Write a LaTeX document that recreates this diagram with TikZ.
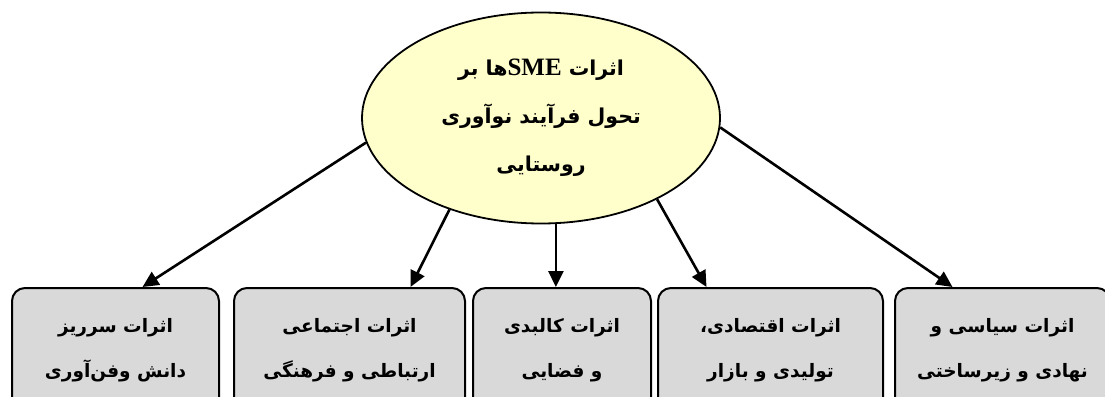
\documentclass[tikz,border=0pt]{standalone}
\usepackage{fontspec}
\setmainfont{Liberation Serif}
\newfontfamily\farsi[Script=Arabic]{DejaVu Sans}
\TeXXeTstate=1
\usepackage{xcolor}
\usepackage{tikz}
\usetikzlibrary{shapes.geometric,arrows.meta,calc}

\definecolor{ellyellow}{RGB}{255,255,204}
\definecolor{boxgray}{RGB}{217,217,217}
\newcommand{\fa}[1]{\beginR #1\endR}

\tikzset{
	effect/.style={draw, line width=2pt, rounded corners=13pt, fill=boxgray,
		minimum height=124pt, inner sep=0pt, align=center,
		font=\farsi\bfseries\fontsize{18.5}{45}\selectfont},
	arr/.style={-{Triangle[length=16pt,width=15pt]}, line width=2.6pt}
}

\begin{document}
\begin{tikzpicture}[x=1pt,y=-1pt]
	\clip (0,0) rectangle (1105,396);
	\node[ellipse, draw, line width=1.8pt, fill=ellyellow, minimum width=358pt,
		minimum height=211pt, inner sep=0pt, align=center,
		font=\farsi\bfseries\fontsize{20.5}{48}\selectfont] (impact) at (541,118)
		{\fa{اثرات \beginL{\rmfamily\bfseries\fontsize{25}{48}\selectfont SME}\endL ها بر}\\
		 \fa{تحول فرآیند نوآوری}\\
		 \fa{روستایی}};
	\node[effect, minimum width=207pt] (b1) at (115.5,350) {\fa{اثرات سرریز}\\\fa{دانش وفن‌آوری}};
	\node[effect, minimum width=231pt] (b2) at (349.5,350) {\fa{اثرات اجتماعی}\\\fa{ارتباطی و فرهنگی}};
	\node[effect, minimum width=178pt] (b3) at (562,350) {\fa{اثرات کالبدی}\\\fa{و فضایی}};
	\node[effect, minimum width=225pt] (b4) at (770.5,350) {\fa{اثرات اقتصادی،}\\\fa{تولیدی و بازار}};
	\node[effect, minimum width=215pt] (b5) at (1002.5,350) {\fa{اثرات سیاسی و}\\\fa{نهادی و زیرساختی}};
	\draw[arr] (impact.188) -- ($(b1.north)+(27,0)$);
	\draw[arr] (impact.225) -- ($(b2.north)+(61,0)$);
	\draw[arr] (impact.278) -- (impact.278 |- b3.north);
	\draw[arr] (impact.325) -- ($(b4.north)+(-64,0)$);
	\draw[arr] (impact.357) -- ($(b5.north)+(-50,0)$);
\end{tikzpicture}
\end{document}
